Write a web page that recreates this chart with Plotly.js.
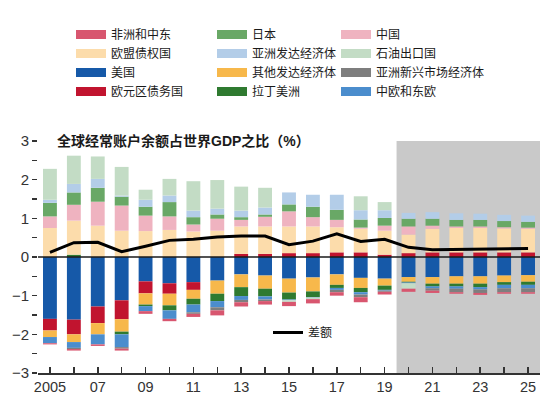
<!DOCTYPE html>
<html>
<head>
<meta charset="utf-8">
<script src="https://cdn.plot.ly/plotly-3.0.1.min.js"></script>
<style>html,body{margin:0;padding:0;background:#fff;}#chart{width:554px;height:412px;}</style>
</head>
<body>
<div id="chart"></div>
<script>
// ---- Data (share of world GDP, %) ----
const years = [2005,2006,2007,2008,2009,2010,2011,2012,2013,2014,2015,2016,2017,2018,2019,2020,2021,2022,2023,2024,2025];
const tickText = ['2005','','07','','09','','11','','13','','15','','17','','19','','21','','23','','25'];

const usa          = [-1.60,-1.62,-1.28,-1.12,-0.63,-0.68,-0.65,-0.61,-0.45,-0.48,-0.56,-0.53,-0.45,-0.54,-0.56,-0.52,-0.52,-0.50,-0.50,-0.48,-0.47];
const euroDebtors  = [-0.30,-0.38,-0.43,-0.49,-0.31,-0.27,-0.20, 0.00, 0.08, 0.08, 0.10, 0.10, 0.12, 0.12, 0.06, 0.10, 0.12, 0.12, 0.12, 0.12, 0.12];
const otherAdv     = [-0.17,-0.20,-0.29,-0.32,-0.29,-0.30,-0.23,-0.34,-0.33,-0.34,-0.36,-0.36,-0.27,-0.26,-0.18,-0.12,-0.17,-0.19,-0.19,-0.17,-0.17];
const latinAmerica = [ 0.00, 0.06, 0.00,-0.07,-0.04,-0.13,-0.15,-0.19,-0.23,-0.20,-0.18,-0.15,-0.08,-0.11,-0.11,-0.02,-0.07,-0.07,-0.09,-0.07,-0.08];
const ceeEurope    = [-0.16,-0.15,-0.26,-0.33,-0.13,-0.22,-0.20,-0.16,-0.10,-0.08,-0.02,-0.01,-0.05,-0.06,-0.02,-0.02,-0.05,-0.06,-0.06,-0.09,-0.09];
const emergingAsia = [ 0.00,-0.03, 0.00,-0.04, 0.00, 0.00,-0.04,-0.08,-0.06,-0.04, 0.00, 0.00,-0.06,-0.07,-0.03, 0.00,-0.06,-0.09,-0.09,-0.10,-0.10];
const euCreditors  = [ 0.75, 0.88, 0.81, 0.68, 0.67, 0.70, 0.66, 0.68, 0.71, 0.71, 0.69, 0.69, 0.65, 0.61, 0.62, 0.48, 0.61, 0.63, 0.63, 0.62, 0.61];
const china        = [ 0.30, 0.41, 0.62, 0.65, 0.40, 0.35, 0.18, 0.31, 0.17, 0.25, 0.39, 0.24, 0.19, 0.03, 0.13, 0.21, 0.08, 0.04, 0.04, 0.03, 0.03];
const japan        = [ 0.35, 0.32, 0.36, 0.23, 0.23, 0.37, 0.19, 0.11, 0.07, 0.06, 0.18, 0.27, 0.26, 0.21, 0.20, 0.20, 0.18, 0.17, 0.17, 0.16, 0.15];
const advAsia      = [ 0.08, 0.22, 0.23, 0.03, 0.18, 0.17, 0.17, 0.15, 0.17, 0.18, 0.31, 0.31, 0.39, 0.24, 0.20, 0.15, 0.17, 0.17, 0.16, 0.16, 0.16];
const oilExporters = [ 0.80, 0.73, 0.58, 0.74, 0.26, 0.43, 0.76, 0.74, 0.62, 0.51,-0.04,-0.04, 0.00, 0.36, 0.21,-0.14, 0.00, 0.00, 0.00, 0.00, 0.00];
const africaME     = [-0.03,-0.04,-0.04,-0.05,-0.07,-0.06,-0.08,-0.13,-0.11,-0.09,-0.11,-0.11,-0.09,-0.13,-0.07,-0.08,-0.06,-0.04,-0.05,-0.04,-0.04];
const discrepancy  = [ 0.12, 0.37, 0.38, 0.14, 0.28, 0.43, 0.46, 0.52, 0.54, 0.54, 0.32, 0.41, 0.60, 0.40, 0.46, 0.25, 0.19, 0.20, 0.21, 0.22, 0.22];

// series definitions in stacking order; legend placement: [legend, rank]
const series = [
  {name:'美国',             y:usa,          color:'#1659a8', lg:'legend',  rank:3},
  {name:'欧元区债务国',      y:euroDebtors,  color:'#c1142f', lg:'legend',  rank:4},
  {name:'其他发达经济体',    y:otherAdv,     color:'#f7b84b', lg:'legend2', rank:3},
  {name:'拉丁美洲',          y:latinAmerica, color:'#2f7a30', lg:'legend2', rank:4},
  {name:'中欧和东欧',        y:ceeEurope,    color:'#4b8dcd', lg:'legend3', rank:4},
  {name:'亚洲新兴市场经济体', y:emergingAsia, color:'#7e7e7e', lg:'legend3', rank:3},
  {name:'欧盟债权国',        y:euCreditors,  color:'#fcdcab', lg:'legend',  rank:2},
  {name:'中国',             y:china,        color:'#efb3c0', lg:'legend3', rank:1},
  {name:'日本',             y:japan,        color:'#69a866', lg:'legend2', rank:1},
  {name:'亚洲发达经济体',    y:advAsia,      color:'#b3cde8', lg:'legend2', rank:2},
  {name:'石油出口国',        y:oilExporters, color:'#c3dcc5', lg:'legend3', rank:2},
  {name:'非洲和中东',        y:africaME,     color:'#d8566f', lg:'legend',  rank:1}
];

const traces = [];
series.forEach((s, i) => {
  traces.push({
    type:'bar', x:years, y:s.y, name:s.name, legendgroup:'g'+i, showlegend:false,
    marker:{color:s.color, line:{width:0}}, hovertemplate:'%{x}: %{y}<extra>'+s.name+'</extra>'
  });
});
// legend swatches (wide rectangles as in the original)
series.forEach((s, i) => {
  traces.push({
    type:'scatter', mode:'lines', x:[null], y:[null], name:s.name, legendgroup:'g'+i,
    legend:s.lg, legendrank:s.rank, line:{color:s.color, width:9}, hoverinfo:'skip'
  });
});
traces.push({
  type:'scatter', mode:'lines', x:years, y:discrepancy, name:'差额', legend:'legend4',
  line:{color:'#000', width:3}
});

const L = 38, R = 540, T = 141, B = 373;
const px = v => (v - L) / (R - L);
const py = v => (B - v) / (B - T);
const FONT = 'Liberation Sans, "Noto Sans CJK SC", sans-serif';
const legendBase = {orientation:'v', xanchor:'left', yanchor:'top', bgcolor:'rgba(0,0,0,0)',
  font:{family:FONT, size:12, color:'#1a1a1a'}, itemwidth:30, tracegroupgap:1, traceorder:'normal'};

const layout = {
  width:554, height:412,
  margin:{l:L, r:554-R, t:T, b:412-B, pad:0},
  paper_bgcolor:'#fff', plot_bgcolor:'rgba(0,0,0,0)',
  font:{family:FONT, size:15, color:'#333'},
  barmode:'relative', bargap:0.42,
  showlegend:true,
  legend:  Object.assign({}, legendBase, {x:px(71),  y:py(20)}),
  legend2: Object.assign({}, legendBase, {x:px(212), y:py(20)}),
  legend3: Object.assign({}, legendBase, {x:px(336), y:py(20)}),
  legend4: Object.assign({}, legendBase, {x:px(268), y:py(318)}),
  xaxis:{
    range:[2004.5, 2025.5], tickmode:'array', tickvals:years, ticktext:tickText,
    ticks:'inside', ticklen:6, tickwidth:1.5, tickcolor:'#333',
    showline:true, linecolor:'#333', linewidth:1.5, showgrid:false, zeroline:false,
    tickfont:{size:14.5, color:'#333'}, fixedrange:true
  },
  yaxis:{
    range:[-3, 3], dtick:1, tick0:0, ticks:'outside', ticklen:5, tickwidth:1.2, tickcolor:'#333',
    minor:{dtick:0.5, tick0:0, ticks:'outside', ticklen:5, tickwidth:1.2, tickcolor:'#333'},
    showline:false, showgrid:false, zeroline:false, tickfont:{size:15, color:'#333'}, fixedrange:true
  },
  yaxis2:{
    overlaying:'y', side:'right', range:[-3, 3], dtick:0.5, tick0:0, ticks:'inside', ticklen:5,
    tickwidth:1.2, tickcolor:'#222', showticklabels:false, showline:false, showgrid:false, zeroline:false, fixedrange:true
  },
  shapes:[
    {type:'rect', xref:'x', yref:'y', x0:2019.5, x1:2025.5, y0:-3, y1:3, fillcolor:'#c9c9c9', line:{width:0}, layer:'below'},
    {type:'line', xref:'paper', yref:'y', x0:0, x1:1, y0:0, y1:0, line:{color:'#1a1a1a', width:1.5}, layer:'above'}
  ],
  annotations:[
    {xref:'paper', yref:'y', x:px(55), y:3, xanchor:'left', yanchor:'middle', showarrow:false,
     text:'<b>全球经常账户余额占世界GDP之比（%）</b>', font:{family:FONT, size:14, color:'#1a1a1a'}}
  ]
};

Plotly.newPlot('chart', traces, layout, {displayModeBar:false, staticPlot:true});
</script>
</body>
</html>
